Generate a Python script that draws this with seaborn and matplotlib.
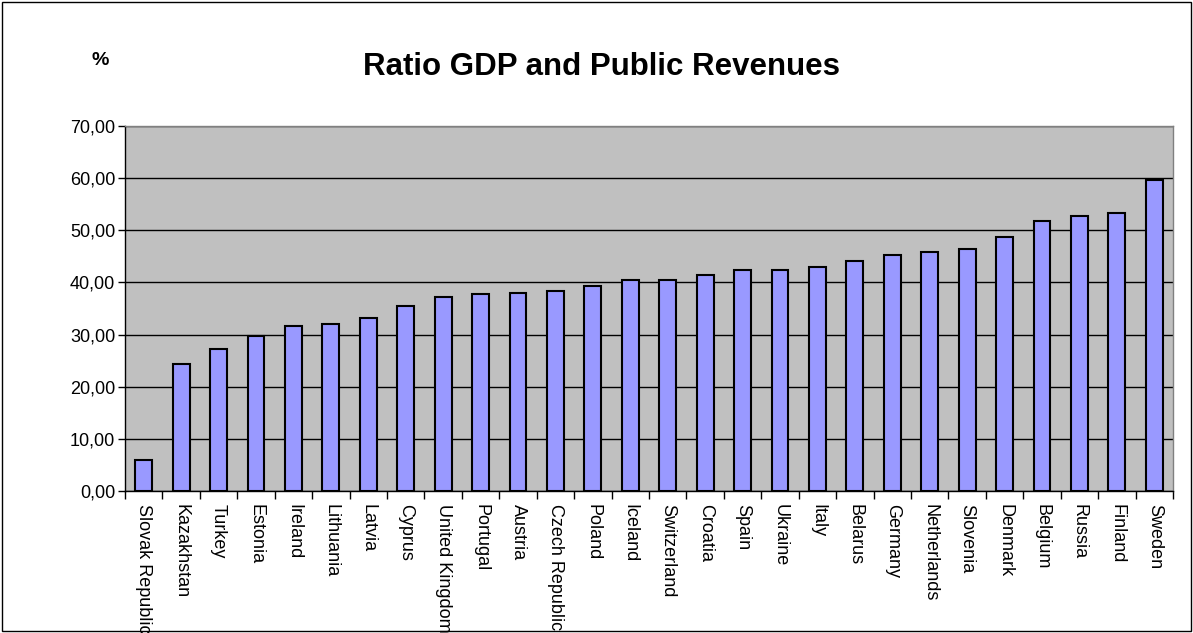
import matplotlib
matplotlib.use("Agg")
import matplotlib.pyplot as plt
import seaborn as sns
from matplotlib.patches import Rectangle
from matplotlib.ticker import FuncFormatter, FixedLocator

countries = ["Slovak Republic", "Kazakhstan", "Turkey", "Estonia", "Ireland",
             "Lithuania", "Latvia", "Cyprus", "United Kingdom", "Portugal",
             "Austria", "Czech Republic", "Poland", "Iceland", "Switzerland",
             "Croatia", "Spain", "Ukraine", "Italy", "Belarus", "Germany",
             "Netherlands", "Slovenia", "Denmark", "Belgium", "Russia",
             "Finland", "Sweden"]
ratio = [5.9, 24.4, 27.3, 29.8, 31.7, 32.0, 33.2, 35.4, 37.3, 37.7,
         38.0, 38.3, 39.3, 40.4, 40.4, 41.4, 42.3, 42.3, 43.0, 44.2,
         45.2, 45.8, 46.4, 48.7, 51.8, 52.7, 53.3, 59.6]
yticks = [0, 10, 20, 30, 40, 50, 60, 70]

sns.set_style("white")
plt.rcParams["font.family"] = ["Liberation Sans", "DejaVu Sans"]
plt.rcParams["text.color"] = "black"
plt.rcParams["xtick.color"] = "black"
plt.rcParams["ytick.color"] = "black"

fig = plt.figure(figsize=(11.93, 6.33), dpi=100)
ax = fig.add_axes([0.1048, 0.2243, 0.8784, 0.5766])
ax.set_facecolor("#C0C0C0")

sns.barplot(x=countries, y=ratio, color="#9999FF", edgecolor="black",
            linewidth=1.5, width=0.45, saturation=1, ax=ax, zorder=3)

ax.set_xlim(-0.5, len(countries) - 0.5)
ax.set_ylim(0, 70)
ax.set_yticks(yticks)
ax.yaxis.set_major_formatter(FuncFormatter(lambda v, p: f"{v:.2f}".replace(".", ",")))
ax.yaxis.grid(True, color="black", linewidth=1)
ax.set_axisbelow(True)
for g in ax.get_ygridlines():
    g.set_zorder(1)

ax.tick_params(axis="y", direction="out", length=5, width=1, color="black",
               labelcolor="black", labelsize=13, pad=2, left=True)
ax.tick_params(axis="x", which="major", length=0, labelsize=13, labelcolor="black", pad=9)
ax.xaxis.set_minor_locator(FixedLocator([i - 0.5 for i in range(len(countries) + 1)]))
ax.tick_params(axis="x", which="minor", direction="out", length=6, width=1,
               color="black", bottom=True)
for lab in ax.get_xticklabels():
    lab.set_rotation(-90)
    lab.set_ha("center")
    lab.set_va("top")

ax.spines["left"].set_color("black")
ax.spines["bottom"].set_color("black")
ax.spines["top"].set_color("#808080")
ax.spines["right"].set_color("#808080")
for s in ax.spines.values():
    s.set_linewidth(1)
ax.set_xlabel("")
ax.set_ylabel("")

fig.text(0.504, 0.894, "Ratio GDP and Public Revenues", ha="center", va="center",
         fontsize=22.5, fontweight="bold", color="black")
fig.text(0.084, 0.905, "%", ha="center", va="center", fontsize=14, fontweight="bold",
         color="black")

fig.patches.append(Rectangle((0.002, 0.003), 0.996, 0.994, transform=fig.transFigure,
                             fill=False, edgecolor="black", linewidth=1))

fig.savefig("out.png", dpi=100)
